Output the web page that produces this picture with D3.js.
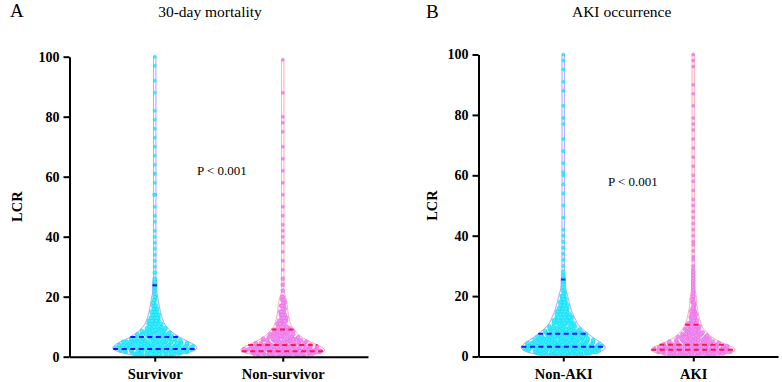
<!DOCTYPE html>
<meta charset="utf-8">
<head>
  <title>LCR violin plots</title>
</head>

<style>
body { margin: 0; background: #fff; }
text { font-family: "Times New Roman", "Liberation Serif", serif; fill: #000; }
.axis path, .axis line { stroke: #000; stroke-width: 2; }
.axis text { font-family: "Times New Roman", "Liberation Serif", serif; font-size: 14px; font-weight: bold; }
.xaxis text { font-size: 14.5px; }
</style>

<body>
  <svg width="782" height="382"></svg>

  <script src="https://cdn.jsdelivr.net/npm/d3@7"></script>

  <script>
// LCR levels (dense part), then counts of patients at each level per group
var levels = [0.5, 1, 1.5, 2, 2.5, 3, 3.5, 4, 4.5, 5,
              5.5, 6, 6.5, 7, 7.5, 8, 8.5, 9, 9.5, 10,
              11, 12, 13, 14, 15, 16, 17, 18, 19, 20];

var survivorCounts    = [8, 11, 12, 13, 14, 14, 13, 12, 11, 10, 9, 8, 7, 6, 6, 5, 5, 4, 4, 4, 6, 5, 4, 4, 3, 3, 3, 2, 2, 2];
var nonSurvivorCounts = [11, 13, 14, 13, 12, 11, 10, 9, 8, 7, 6, 6, 5, 4, 4, 4, 3, 3, 3, 3, 4, 4, 3, 3, 3, 2, 3, 2, 2, 2];
var nonAkiCounts      = [11, 13, 13, 14, 14, 14, 14, 13, 12, 11, 10, 10, 9, 8, 8, 7, 7, 6, 6, 6, 9, 8, 7, 6, 5, 5, 4, 4, 3, 3];
var akiCounts         = [12, 14, 15, 15, 13, 12, 11, 10, 8, 7, 6, 6, 5, 5, 4, 4, 3, 3, 3, 3, 5, 4, 3, 3, 3, 2, 2, 2, 2, 2];

// individual values above 20
var survivorTail = [21, 22, 23, 24, 24, 25, 26, 28, 30, 32, 34, 36, 38, 40, 42, 45, 47, 50, 54, 54, 54, 58, 61, 61,
                    64, 67, 70, 73, 76, 79, 82, 88, 92, 97, 100];
var nonSurvivorTail = [22, 24, 26, 29, 32, 35, 38, 40, 42, 44, 47, 50, 54, 58, 62, 66, 70, 75, 78, 80, 88, 99];
var nonAkiTail = [21, 21, 22, 22, 23, 24, 25, 25, 26, 27, 28, 30, 32, 34, 36, 38, 40, 42, 46, 50, 54, 57, 60, 61,
                  64, 68, 72, 77, 79, 83, 88, 91, 95, 98, 100];
var akiTail = [21, 22, 23, 24, 25, 26, 27, 28, 29, 30, 32, 33, 35, 37, 38, 40, 42, 44, 46, 48, 50, 52, 55, 58, 60,
               63, 66, 69, 72, 75, 77, 79, 83, 87, 90, 96, 98, 100];

// dashed quartile lines
var survivorLines    = [2.6, 6.6, 23.8];
var nonSurvivorLines = [1.8, 3.9, 9.1];
var nonAkiLines      = [3.2, 7.5, 25.5];
var akiLines         = [2.2, 3.9, 10.5];

var mortalityGroups = ['Survivor', 'Non-survivor'];
var akiGroups = ['Non-AKI', 'AKI'];
var yTicks = [0, 20, 40, 60, 80, 100];

var cyan = { dot: '#3eeeff', dotStroke: '#08d4ec', outline: '#8f8fff', line: '#1414ff' };
var pink = { dot: '#f292f2', dotStroke: '#e062e0', outline: '#ff93a3', line: '#ff1456' };

var panels = [
  { letter: 'A', letterX: 10, letterY: 17, title: '30-day mortality', titleX: 210, titleY: 17,
    left: 69.5, right: 368, top: 56.7, bottom: 356.7, pad: 0.666, lcrX: 22, pX: 197, pY: 175,
    cats: mortalityGroups,
    series: [
      { counts: survivorCounts, tail: survivorTail, lines: survivorLines, c: cyan },
      { counts: nonSurvivorCounts, tail: nonSurvivorTail, lines: nonSurvivorLines, c: pink }
    ] },
  { letter: 'B', letterX: 426, letterY: 18, title: 'AKI occurrence', titleX: 621.7, titleY: 17,
    left: 478.5, right: 778, top: 54.5, bottom: 356.5, pad: 0.652, lcrX: 437, pX: 608, pY: 186,
    cats: akiGroups,
    series: [
      { counts: nonAkiCounts, tail: nonAkiTail, lines: nonAkiLines, c: cyan },
      { counts: akiCounts, tail: akiTail, lines: akiLines, c: pink }
    ] }
];

var bw = 1.2, maxHalf = 42;
var svg = d3.select('svg');

function expand(counts, tail) {
  var vals = [];
  levels.forEach(function(v, i) {
    for (var k = 0; k < counts[i]; k++) vals.push(v);
  });
  return vals.concat(tail);
}

function drawPanel(p) {
  var g = svg.append('g');
  var y = d3.scaleLinear().domain([0, 100]).range([p.bottom, p.top]);
  var x = d3.scalePoint().domain(p.cats).range([p.left, p.right]).padding(p.pad);

  p.series.forEach(function(s, i) {
    var cx = x(p.cats[i]);
    var vals = expand(s.counts, s.tail).sort(d3.ascending);
    var dens = function(v) {
      return d3.sum(vals, function(w) { return Math.exp(-0.5 * Math.pow((v - w) / bw, 2)); });
    };
    var grid = d3.range(d3.min(vals), d3.max(vals) + 0.001, 0.25);
    var w = d3.scaleLinear().domain([0, d3.max(grid, dens)]).range([0, maxHalf]);
    var half = function(v) { return Math.max(1.2, w(dens(v))); };

    var area = d3.area()
      .y(function(v) { return y(v); })
      .x0(function(v) { return cx - half(v); })
      .x1(function(v) { return cx + half(v); })
      .curve(d3.curveBasis);

    g.append('path')
      .attr('d', area(grid))
      .attr('fill', 'none')
      .attr('stroke', s.c.outline)
      .attr('stroke-width', 0.9);

    g.append('g').selectAll('circle')
      .data(vals)
      .enter()
      .append('circle')
      .attr('cx', function(v, k) {
        var u = (k * 0.6180339887 + 0.31) % 1;
        return cx + (2 * u - 1) * Math.max(0, half(v) - 2.2);
      })
      .attr('cy', function(v) { return y(v); })
      .attr('r', function(v) { return v > 28 ? 1.5 : 1.9; })
      .attr('fill', s.c.dot)
      .attr('stroke', s.c.dotStroke)
      .attr('stroke-width', 0.5);

    g.append('g').selectAll('line')
      .data(s.lines)
      .enter()
      .append('line')
      .attr('x1', function(v) { return cx - half(v); })
      .attr('x2', function(v) { return cx + half(v); })
      .attr('y1', function(v) { return y(v); })
      .attr('y2', function(v) { return y(v); })
      .attr('stroke', s.c.line)
      .attr('stroke-width', 2)
      .attr('stroke-dasharray', '5,3.5');
  });

  g.append('g')
    .attr('class', 'axis')
    .attr('transform', 'translate(' + p.left + ',0)')
    .call(d3.axisLeft(y).tickValues(yTicks).tickSize(6).tickSizeOuter(0).tickPadding(4));

  g.append('g')
    .attr('class', 'axis xaxis')
    .attr('transform', 'translate(0,' + p.bottom + ')')
    .call(d3.axisBottom(x).tickSize(5).tickSizeOuter(0).tickPadding(7));

  g.append('text')
    .attr('transform', 'translate(' + p.lcrX + ',' + ((p.top + p.bottom) / 2) + ') rotate(-90)')
    .attr('text-anchor', 'middle')
    .style('font-size', '14.5px')
    .style('font-weight', 'bold')
    .text('LCR');

  g.append('text')
    .attr('x', p.letterX).attr('y', p.letterY)
    .style('font-size', '19px')
    .text(p.letter);

  g.append('text')
    .attr('x', p.titleX).attr('y', p.titleY)
    .attr('text-anchor', 'middle')
    .style('font-size', '15.5px')
    .text(p.title);

  g.append('text')
    .attr('x', p.pX).attr('y', p.pY)
    .style('font-size', '13px')
    .text('P < 0.001');
}

panels.forEach(drawPanel);
  </script>
</body>
</html>
